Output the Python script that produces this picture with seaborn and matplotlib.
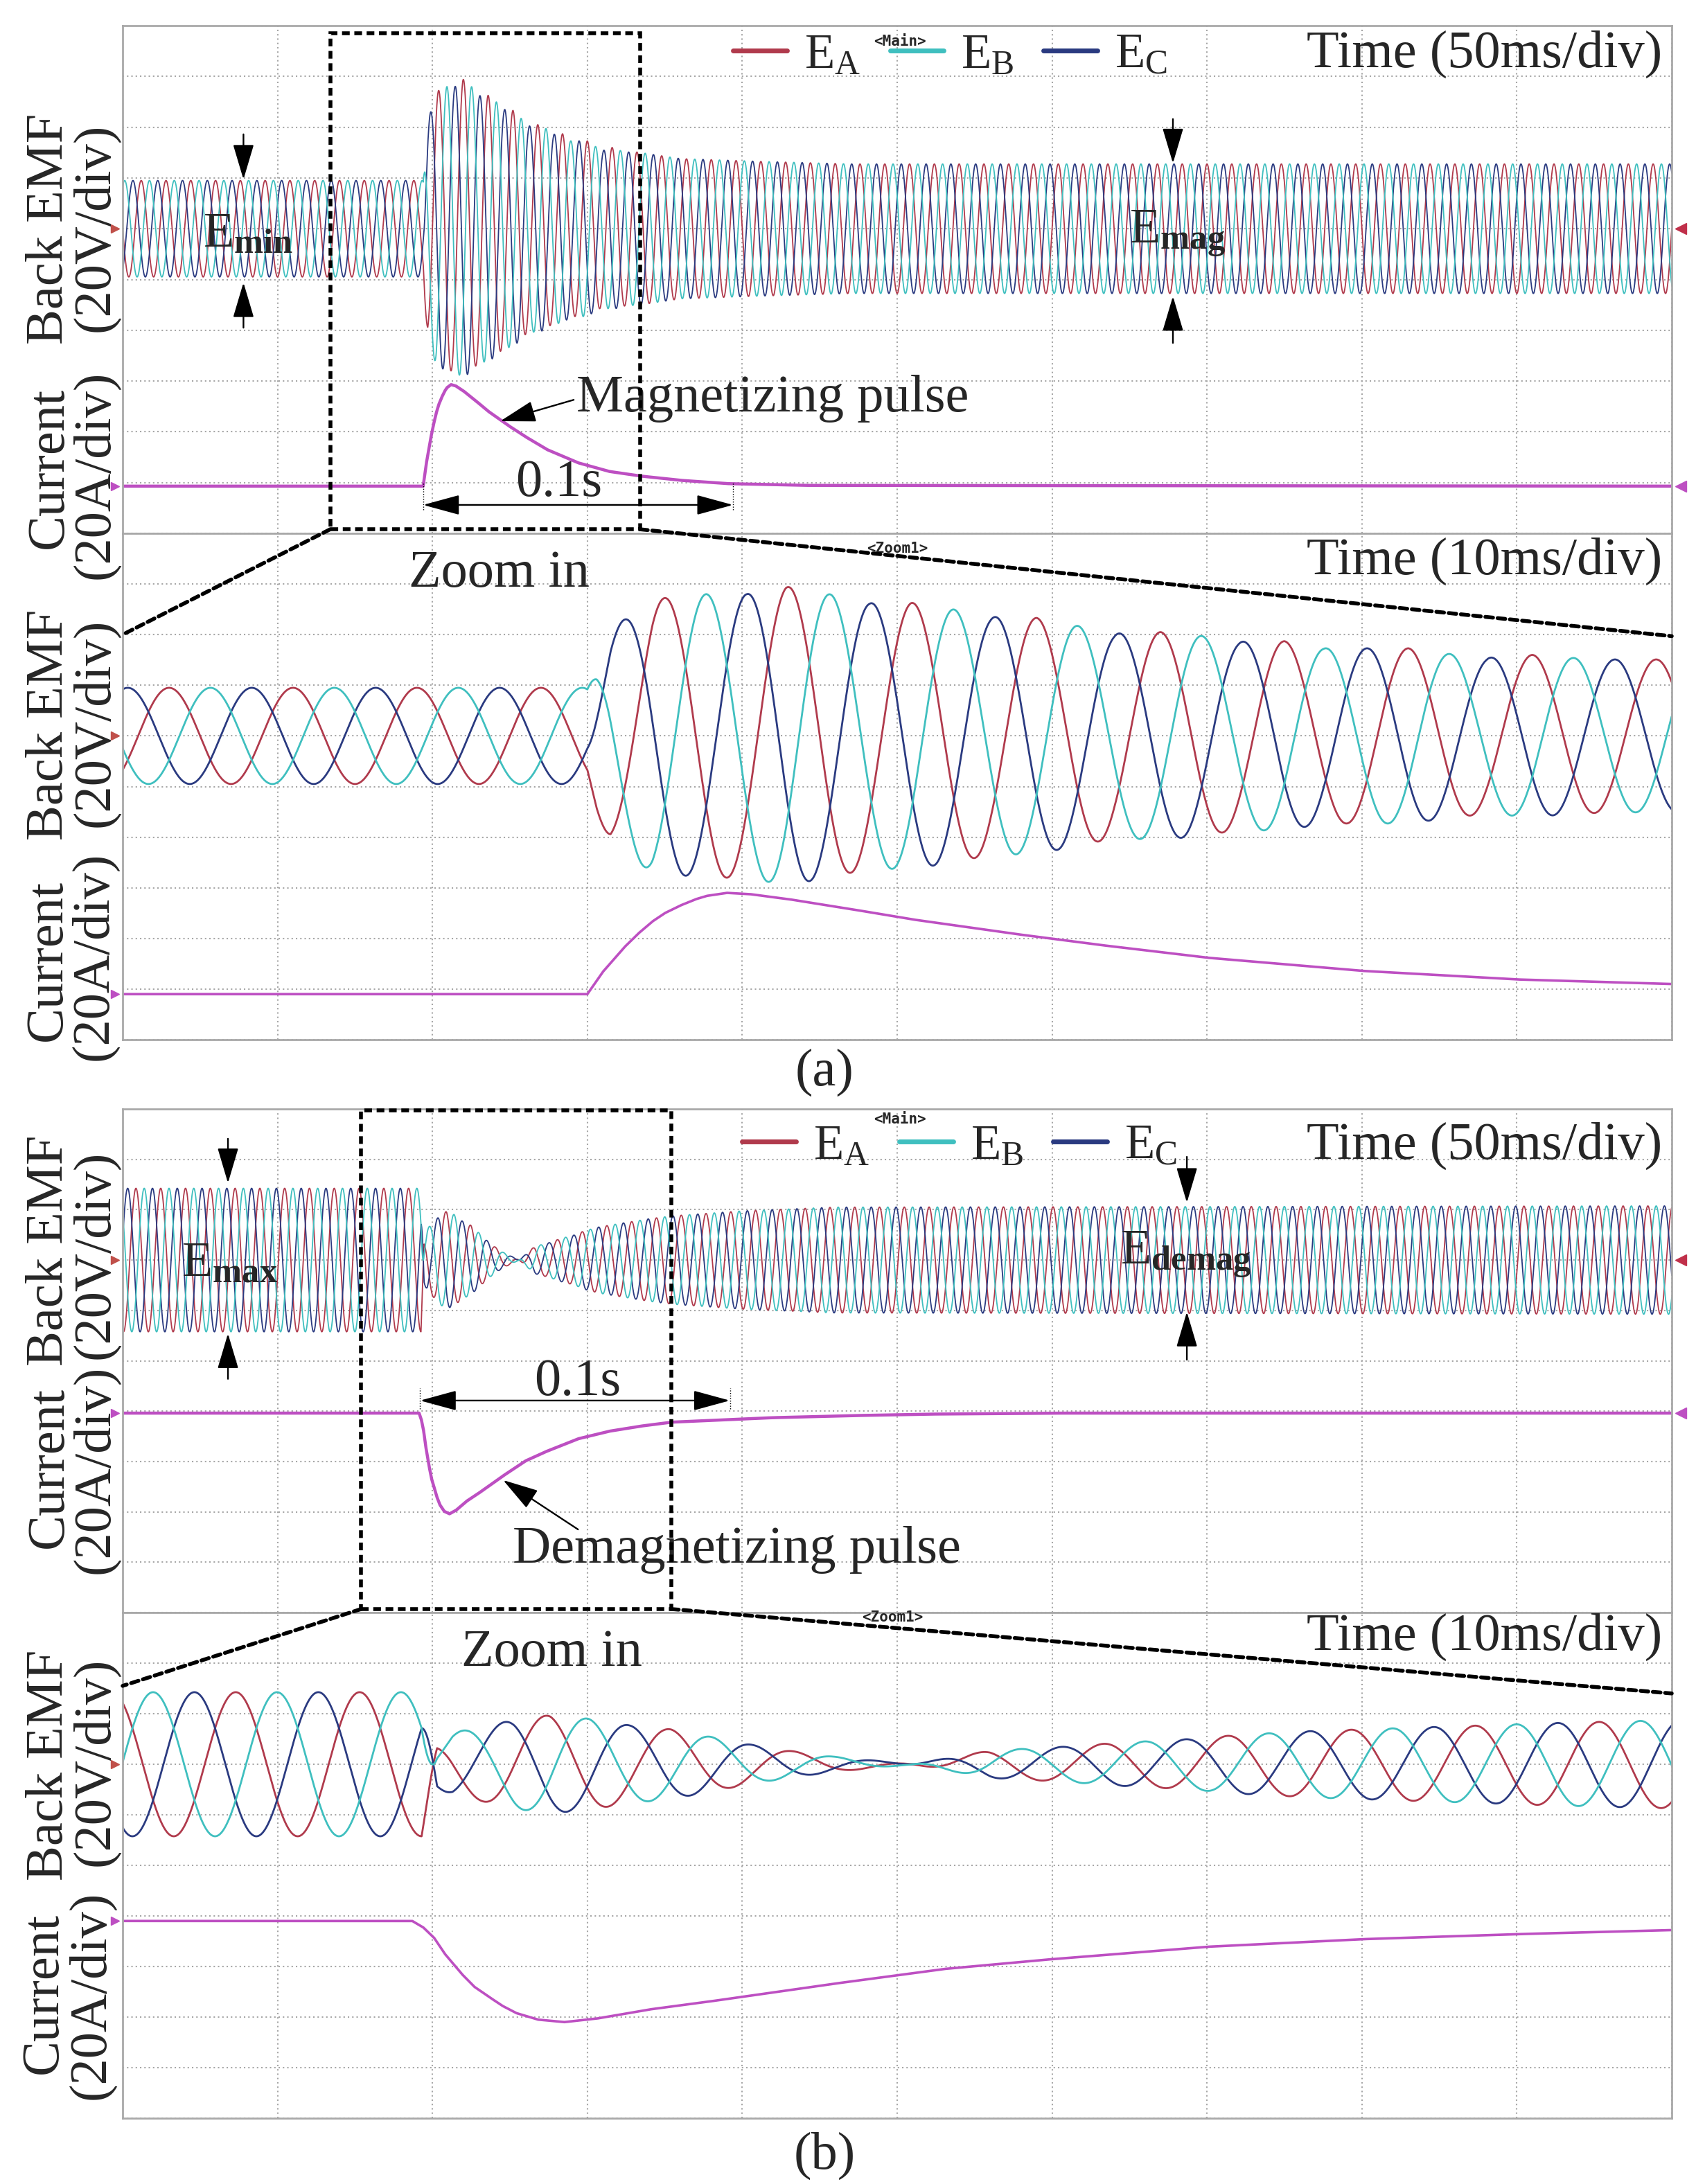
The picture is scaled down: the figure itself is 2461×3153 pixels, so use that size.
import numpy as np
import pandas as pd
import matplotlib
matplotlib.use("Agg")
import matplotlib.pyplot as plt
from matplotlib.patches import Rectangle, ConnectionPatch
from matplotlib.transforms import blended_transform_factory
import seaborn as sns

PERIOD_MS = 8.0        # back EMF period, 125 Hz
V_PER_DIV = 20.0
A_PER_DIV = 20.0
MAIN_WINDOW = [0.0, 500.0]     # 50 ms/div
ZOOM_WINDOW_A = [67.0, 167.0]  # 10 ms/div
ZOOM_WINDOW_B = [77.0, 177.0]

# (a) magnetizing pulse: EMF envelope (ms, V), time of an E_A peak, pulse current (ms, A)
MAG_ENV_T = [0, 97, 97.6, 98.5, 101.2, 104.7, 107.3, 109.8, 112.6, 115.2, 117.9, 120.6, 123,
             126, 128.7, 131, 134, 136.5, 139, 142, 144.5, 147, 150, 152.6, 155, 158, 160.6,
             163, 166, 180, 206, 235, 500]
MAG_ENV_V = [19, 19, 30, 42, 54, 56, 56, 59, 56, 52.4, 52.6, 50, 47,
             46.6, 43.4, 40.4, 41, 39.6, 37.2, 37.4, 34.6, 34.6, 34.6, 32.4, 30.8, 32, 30.8,
             30.2, 30.2, 27.6, 26.5, 25.5, 25.5]
MAG_PEAK_A = 70.0
MAG_CUR_T = [0, 97, 98, 99.4, 100.3, 101.2, 102, 103, 104, 104.7, 106, 107.5, 110, 114, 118,
             124.6, 130, 137, 147, 157, 167, 180, 195, 220, 500]
MAG_CUR_I = [0, 0, 8.8, 18.6, 24, 28.7, 32, 35, 37.5, 38.8, 40, 39.5, 37.5, 33.6, 29.5,
             23.8, 19.5, 14.4, 9.2, 5.8, 4, 2.3, 1.0, 0.3, 0]

# (b) demagnetizing pulse: signed envelope, the phase flips while the EMF collapses
DEMAG_ENV_T = [0, 96.3, 97.3, 98.3, 100.2, 102.3, 104.6, 107.1, 109.7, 112.4, 115, 117.7, 120.2,
               122.9, 128, 133, 138, 141, 146, 149, 154, 160, 170, 178, 200, 230, 500]
DEMAG_ENV_V = [28.5, 28.5, -9, -12.6, -14.6, -17.6, -19.4, -18, -15.4, -13.8, -10.8, -7.6, -5.2,
               -3, 0, 5.4, 7, 8.4, 10, 11.6, 13.2, 14.4, 16.4, 17.6, 19.5, 21, 21.5]
DEMAG_PEAK_A = 84.3
DEMAG_CUR_T = [0, 95.7, 96.4, 97.1, 97.8, 98.9, 99.7, 100.6, 101.5, 102.4, 103.8, 105.5, 107.6,
               111, 114.7, 122.7, 130, 136.4, 147, 157, 167, 177, 195, 210, 235, 260, 300, 500]
DEMAG_CUR_I = [0, 0, -2.5, -6.6, -13, -21, -26, -29.8, -33.5, -36.4, -39, -40, -38.6,
               -35, -32, -25, -19, -15.4, -10.2, -7.2, -5.2, -3.6, -2.6, -1.8, -1.0, -0.4, 0, 0]

PHASES = ["E_A", "E_B", "E_C"]
PHASE_LAG = [0.0, 1 / 3, -1 / 3]  # in periods
LEGEND_TEXT = {"E_A": r"$\mathrm{E_A}$", "E_B": r"$\mathrm{E_B}$", "E_C": r"$\mathrm{E_C}$"}
COLORS = {"E_A": "#b03a4c", "E_B": "#3fbfbf", "E_C": "#2a3a80"}
CUR_COLOR = "#bd4fc2"

sns.set_theme(style="white")
plt.rcParams["font.family"] = ["Liberation Serif", "DejaVu Serif"]
plt.rcParams["mathtext.fontset"] = "custom"
plt.rcParams["mathtext.rm"] = "Liberation Serif"
plt.rcParams["mathtext.it"] = "Liberation Serif:italic"
plt.rcParams["mathtext.bf"] = "Liberation Serif:bold"

W, H = 2461, 3153
X0, X1 = 177, 2413
fig = plt.figure(figsize=(W / 100, H / 100), dpi=100)
fig.patch.set_facecolor("white")

DOTS = (0, (2, 1.2))
ARROW = "-|>,head_length=3.2,head_width=0.95"
DARROW = "<|-|>,head_length=3.3,head_width=0.9"


def scope_panel(top, bottom, window, env_t, env_v, peak_ref, cur_t, cur_i,
                emf_mid, cur_zero, emf_lw, cur_lw, n=20001):
    ax = fig.add_axes([X0 / W, 1 - bottom / H, (X1 - X0) / W, (bottom - top) / H])
    t = np.linspace(window[0], window[1], n)
    amp = np.interp(t, env_t, env_v)
    df = pd.DataFrame({"t": t})
    for name, lag in zip(PHASES, PHASE_LAG):
        df[name] = emf_mid + amp * np.cos(2 * np.pi * ((t - peak_ref) / PERIOD_MS - lag)) / V_PER_DIV
    df["I"] = cur_zero + np.interp(t, cur_t, cur_i) / A_PER_DIV

    for name in ["E_A", "E_C", "E_B"]:
        sns.lineplot(data=df, x="t", y=name, ax=ax, color=COLORS[name], lw=emf_lw,
                     estimator=None, sort=False, legend=False, label=LEGEND_TEXT[name])
    sns.lineplot(data=df, x="t", y="I", ax=ax, color=CUR_COLOR, lw=cur_lw,
                 estimator=None, sort=False, legend=False)

    ax.set_xlim(window[0], window[1])
    ax.set_ylim(0, 10)
    ax.set_xticks(np.linspace(window[0], window[1], 11))
    ax.set_yticks(np.arange(11))
    ax.tick_params(length=0, labelbottom=False, labelleft=False)
    ax.set(xlabel="", ylabel="")
    ax.grid(True, color="#a6a6a6", ls=(0, (1, 2)), lw=1.5)
    for s in ax.spines.values():
        s.set_color("#a9a9a9")
        s.set_linewidth(2)

    # channel reference markers on the left edge
    tr = blended_transform_factory(ax.transAxes, ax.transData)
    ax.plot([-0.005], [emf_mid], marker=">", ms=9, color="#c0504a", transform=tr, clip_on=False)
    ax.plot([-0.005], [cur_zero], marker=">", ms=9, color=CUR_COLOR, transform=tr, clip_on=False)
    return ax


def right_marks(ax, emf_mid, cur_zero):
    tr = blended_transform_factory(ax.transAxes, ax.transData)
    ax.plot([1.006], [emf_mid], marker="<", ms=11, color="#c0304a", transform=tr, clip_on=False)
    ax.plot([1.006], [cur_zero], marker="<", ms=11, color=CUR_COLOR, transform=tr, clip_on=False)


def arrow(ax, tail, tip, style=ARROW):
    ax.annotate("", xy=tip, xytext=tail, annotation_clip=False,
                arrowprops=dict(arrowstyle=style, mutation_scale=10, lw=1.7, color="black",
                                shrinkA=0, shrinkB=0))


def tag(ax, x, y, txt):
    ax.text(x, y, txt, transform=ax.transAxes, ha="center", va="center",
            family="DejaVu Sans Mono", weight="bold", fontsize=15)


def scope_legend(ax, x, y, main_x, main_y):
    handles, labels = ax.get_legend_handles_labels()
    order = sorted(range(len(labels)), key=lambda k: labels[k])
    leg = ax.legend([handles[k] for k in order], [labels[k] for k in order],
                    loc="upper left", bbox_to_anchor=(x, y), ncol=3, frameon=False,
                    fontsize=51, handlelength=1.1, handletextpad=0.35, columnspacing=0.6,
                    borderpad=0, borderaxespad=0)
    for ln in leg.get_lines():
        ln.set_linewidth(5)
    tag(ax, main_x, main_y, "<Main>")


def zoom_link(ax_main, ax_zoom, window, rect_y0, rect_y1, left_y, right_y):
    ax_main.add_patch(Rectangle((window[0], rect_y0), window[1] - window[0], rect_y1 - rect_y0,
                                fill=False, ec="black", lw=4, ls=DOTS, clip_on=False, zorder=6))
    for xm, yz in [(window[0], left_y), (window[1], right_y)]:
        con = ConnectionPatch(xyA=(xm, rect_y0), coordsA="data", axesA=ax_main,
                              xyB=(xm, yz), coordsB="data", axesB=ax_zoom,
                              color="black", lw=4, ls=DOTS, zorder=6)
        fig.add_artist(con)


# ---------------- (a) magnetizing ----------------
ax_a = scope_panel(37, 770, MAIN_WINDOW, MAG_ENV_T, MAG_ENV_V, MAG_PEAK_A, MAG_CUR_T, MAG_CUR_I,
                   6.0, 0.93, 1.3, 3.2, n=30001)
right_marks(ax_a, 6.0, 0.93)
ax_az = scope_panel(770, 1501, ZOOM_WINDOW_A, MAG_ENV_T, MAG_ENV_V, MAG_PEAK_A, MAG_CUR_T, MAG_CUR_I,
                    6.0, 0.9, 2.0, 2.6)
scope_legend(ax_a, 0.394, 0.985, 0.502, 0.969)
zoom_link(ax_a, ax_az, ZOOM_WINDOW_A, 0.08, 9.85, 8.0, 7.97)

arrow(ax_a, (39, 7.86), (39, 6.97))
arrow(ax_a, (39, 4.05), (39, 4.94))
ax_a.text(26, 5.65, r"$\mathrm{E}_{\mathbf{min}}$", fontsize=52, ha="left", va="baseline")
arrow(ax_a, (339, 8.16), (339, 7.29))
arrow(ax_a, (339, 3.75), (339, 4.67))
ax_a.text(325, 5.72, r"$\mathrm{E}_{\mathbf{mag}}$", fontsize=52, ha="left", va="baseline")

arrow(ax_a, (145.6, 2.63), (121.9, 2.21))
ax_a.text(146.5, 2.4, "Magnetizing pulse", fontsize=55, ha="left", va="baseline")
arrow(ax_a, (97, 0.56), (197, 0.56), DARROW)
ax_a.vlines([97, 197], 0.46, 1.01, color="black", lw=1, ls=":")
ax_a.text(140.7, 0.74, "0.1s", fontsize=55, ha="center", va="baseline")
ax_a.text(0.994, 0.918, "Time (50ms/div)", transform=ax_a.transAxes, fontsize=55,
          ha="right", va="baseline")

ax_az.text(0.994, 0.919, "Time (10ms/div)", transform=ax_az.transAxes, fontsize=55,
           ha="right", va="baseline")
ax_az.text(91.3, 8.95, "Zoom in", fontsize=55, ha="center", va="baseline")
tag(ax_az, 0.5, 0.97, "<Zoom1>")

# ---------------- (b) demagnetizing ----------------
ax_b = scope_panel(1601, 2328, MAIN_WINDOW, DEMAG_ENV_T, DEMAG_ENV_V, DEMAG_PEAK_A,
                   DEMAG_CUR_T, DEMAG_CUR_I, 7.0, 3.96, 1.3, 3.2, n=30001)
right_marks(ax_b, 7.0, 3.96)
ax_bz = scope_panel(2328, 3058, ZOOM_WINDOW_B, DEMAG_ENV_T, DEMAG_ENV_V, DEMAG_PEAK_A,
                    DEMAG_CUR_T, DEMAG_CUR_I, 7.0, 3.9, 2.0, 2.6)
scope_legend(ax_b, 0.40, 0.97, 0.502, 0.979)
zoom_link(ax_b, ax_bz, ZOOM_WINDOW_B, 0.07, 9.97, 8.55, 8.4)

arrow(ax_b, (34, 9.41), (34, 8.53))
arrow(ax_b, (34, 4.64), (34, 5.54))
ax_b.text(19, 6.67, r"$\mathrm{E}_{\mathbf{max}}$", fontsize=52, ha="left", va="baseline")
arrow(ax_b, (343.5, 9.05), (343.5, 8.14))
arrow(ax_b, (343.5, 5.02), (343.5, 5.97))
ax_b.text(322, 6.92, r"$\mathrm{E}_{\mathbf{demag}}$", fontsize=52, ha="left", va="baseline")

arrow(ax_b, (147, 1.65), (122.8, 2.63))
ax_b.text(126, 0.99, "Demagnetizing pulse", fontsize=55, ha="left", va="baseline")
arrow(ax_b, (96, 4.21), (196, 4.21), DARROW)
ax_b.vlines([96, 196], 4.04, 4.46, color="black", lw=1, ls=":")
ax_b.text(146.9, 4.32, "0.1s", fontsize=55, ha="center", va="baseline")
ax_b.text(0.994, 0.902, "Time (50ms/div)", transform=ax_b.transAxes, fontsize=55,
          ha="right", va="baseline")

ax_bz.text(0.994, 0.927, "Time (10ms/div)", transform=ax_bz.transAxes, fontsize=55,
           ha="right", va="baseline")
ax_bz.text(104.7, 8.95, "Zoom in", fontsize=55, ha="center", va="baseline")
tag(ax_bz, 0.497, 0.99, "<Zoom1>")

# ---------------- axis captions (rotated, two columns) ----------------
YLABELS = [
    ("Back EMF", 90, 330), ("(20V/div)", 156, 328), ("Current", 90, 675), ("(20A/div)", 156, 685),
    ("Back EMF", 90, 1046), ("(20V/div)", 156, 1043), ("Current", 88, 1386), ("(20A/div)", 154, 1380),
    ("Back EMF", 90, 1805), ("(20V/div)", 156, 1811), ("Current", 90, 2118), ("(20A/div)", 156, 2121),
    ("Back EMF", 90, 2548), ("(20V/div)", 156, 2543), ("Current", 82, 2877), ("(20A/div)", 150, 2880),
]
for txt, x, y in YLABELS:
    fig.text(x / W, 1 - y / H, txt, rotation=90, rotation_mode="anchor",
             ha="center", va="baseline", fontsize=55)

fig.text(1190 / W, 1 - 1548 / H, "(a)", ha="center", va="center", fontsize=55)
fig.text(1190 / W, 1 - 3112 / H, "(b)", ha="center", va="center", fontsize=55)

fig.savefig("out.png", dpi=100, facecolor="white")
